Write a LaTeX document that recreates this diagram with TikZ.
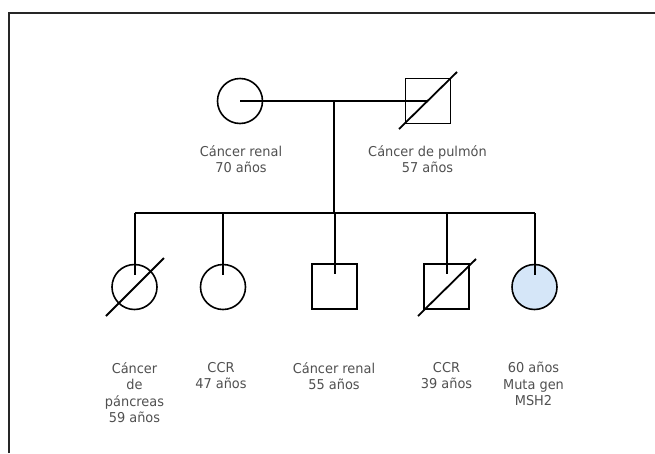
\documentclass[tikz,border=0pt]{standalone}
\usepackage{fontspec}
\setmainfont{DejaVu Sans}[FakeStretch=0.95]
\definecolor{lbl}{HTML}{505050}
\definecolor{affected}{HTML}{D5E6F8}
\begin{document}
\begin{tikzpicture}[x=1pt,y=-1pt,
  fem/.style={circle,draw=black,line width=1.6pt,minimum size=45pt,inner sep=0pt},
  mal/.style={rectangle,draw=black,line width=1.6pt,minimum size=45pt,inner sep=0pt},
  link/.style={line width=2pt,black},
  dead/.style={line width=1.8pt,black},
  lab/.style={text=lbl,font=\fontsize{13.6}{16.6}\selectfont,align=center,inner sep=0pt}]
\useasboundingbox (0,0) rectangle (655,453);
\draw[line width=1.6pt,black!85] (9,453) -- (9,13) -- (655,13);
% parents
\node[fem] (mom) at (240,101) {};
\node[mal] (dad) at (428,101) {};
\coordinate (dadA) at (399,129);
\coordinate (dadB) at (457,72);
\draw[dead] (dadA) -- (dadB);
\draw[link] (mom.center) -- (dad.center);
\coordinate (drop) at (334,101);
\coordinate (sibmid) at (334,213);
\draw[link] (drop) -- (sibmid);
% children
\node[fem] (c1) at (134.5,287) {};
\node[fem] (c2) at (223,287) {};
\node[mal] (c3) at (334.5,286.5) {};
\node[mal] (c4) at (446.5,286.5) {};
\node[fem,fill=affected] (c5) at (534.5,287) {};
\coordinate (c1A) at (106,316);
\coordinate (c1B) at (164,258);
\draw[dead] (c1A) -- (c1B);
\coordinate (c4A) at (418,316);
\coordinate (c4B) at (476,259);
\draw[dead] (c4A) -- (c4B);
\coordinate (s1) at (134.5,213);
\coordinate (s5) at (534.5,213);
\draw[link] (s1) -- (s5);
\foreach \c in {c1,c2,c3,c4,c5}{
  \draw[link] (s1 -| \c) -- ([yshift=-11pt]\c.north);
}
% labels
\node[lab] (lmom) at (241,159) {Cáncer renal\\70 años};
\node[lab] (ldad) at (427.5,159) {Cáncer de pulmón\\57 años};
\node[lab,anchor=north] (l1) at (134.5,362) {Cáncer\\de\\páncreas\\59 años};
\node[lab,anchor=north] (l2) at (221,362) {CCR\\47 años};
\node[lab,anchor=north] (l3) at (334,362) {Cáncer renal\\55 años};
\node[lab,anchor=north] (l4) at (446.5,362) {CCR\\39 años};
\node[lab,anchor=north] (l5) at (533.5,362) {60 años\\Muta gen\\MSH2};
\end{tikzpicture}
\end{document}
